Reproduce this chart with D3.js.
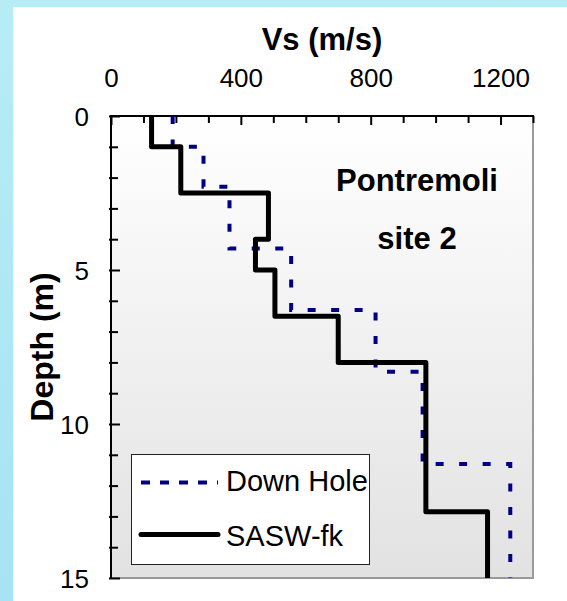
<!DOCTYPE html>
<html>
<head>
<meta charset="utf-8">
<script src="https://cdn.jsdelivr.net/npm/d3@7"></script>
<style>
  html, body { margin: 0; padding: 0; }
  body { width: 567px; height: 601px; overflow: hidden; }
  svg { display: block; font-family: "Liberation Sans", Arial, sans-serif; }
</style>
</head>
<body>
<script>
// Shear-wave velocity profiles: layer boundaries (m) and layer velocities (m/s)
const downHoleDepths = [0, 1, 2.3, 4.3, 6.3, 8.3, 11.3, 15];
const downHoleVs     = [190, 285, 365, 555, 815, 960, 1230];
const saswDepths     = [0, 1, 2.5, 4, 5, 6.5, 8, 12.85, 15];
const saswVs         = [125, 215, 485, 445, 505, 700, 970, 1160];

const xTickValues = [0, 400, 800, 1200];
const yTickValues = [0, 5, 10, 15];
const seriesNames = ["Down Hole", "SASW-fk"];
const xTitle = "Vs (m/s)";
const yTitle = "Depth (m)";
const siteLines = ["Pontremoli", "site 2"];

const W = 567, H = 601;
const plot = { left: 111, top: 116, right: 533, bottom: 578 };

const svg = d3.select("body").append("svg").attr("width", W).attr("height", H);
const defs = svg.append("defs");

const bgGrad = defs.append("linearGradient").attr("id", "bgGrad")
  .attr("x1", 0).attr("y1", 0).attr("x2", 0).attr("y2", 1);
bgGrad.append("stop").attr("offset", 0).attr("stop-color", "#b6edf5");
bgGrad.append("stop").attr("offset", 1).attr("stop-color", "#a7e3f4");

const plotGrad = defs.append("linearGradient").attr("id", "plotGrad")
  .attr("x1", 0).attr("y1", 0).attr("x2", 0).attr("y2", 1);
plotGrad.append("stop").attr("offset", 0).attr("stop-color", "#ffffff");
plotGrad.append("stop").attr("offset", 1).attr("stop-color", "#e2e2e2");

// page background and white panel
svg.append("rect").attr("width", W).attr("height", H).attr("fill", "url(#bgGrad)");
svg.append("rect").attr("x", 13).attr("y", 7).attr("width", W - 13).attr("height", H - 7)
  .attr("fill", "#ffffff");

const x = d3.scaleLinear().domain([0, 1300]).range([plot.left, plot.right]);
const y = d3.scaleLinear().domain([0, 15]).range([plot.top, plot.bottom]);

// plot area
svg.append("rect")
  .attr("x", plot.left).attr("y", plot.top)
  .attr("width", plot.right - plot.left).attr("height", plot.bottom - plot.top)
  .attr("fill", "url(#plotGrad)")
  .attr("stroke", "#9a9a9a").attr("stroke-width", 2);

// axes (top and left), ticks drawn inward
const xAxis = d3.axisTop(x).tickValues(d3.range(0, 1301, 100)).tickSize(0).tickFormat("");
const gx = svg.append("g").attr("transform", `translate(0,${plot.top})`).call(xAxis);
gx.select(".domain").remove();
gx.selectAll(".tick line").remove();
gx.selectAll(".tick").append("line")
  .attr("y1", 0).attr("y2", d => (d % 400 === 0 ? 9 : 7))
  .attr("stroke", "#000").attr("stroke-width", 2);
gx.selectAll(".tick")
  .filter(d => xTickValues.includes(d))
  .append("text")
  .attr("y", 86.5 - plot.top)
  .attr("text-anchor", "middle")
  .attr("fill", "#000")
  .attr("font-size", 26)
  .text(d => d);

const yAxis = d3.axisLeft(y).tickValues(d3.range(0, 15.01, 1)).tickSize(0).tickFormat("");
const gy = svg.append("g").attr("transform", `translate(${plot.left},0)`).call(yAxis);
gy.select(".domain").remove();
gy.selectAll(".tick line").remove();
gy.selectAll(".tick").append("line")
  .attr("x1", -2).attr("x2", d => (d % 5 === 0 ? 9 : 7))
  .attr("stroke", "#000").attr("stroke-width", 2);
gy.selectAll(".tick")
  .filter(d => yTickValues.includes(d))
  .append("text")
  .attr("x", 89 - plot.left)
  .attr("dy", "0.36em")
  .attr("text-anchor", "end")
  .attr("fill", "#000")
  .attr("font-size", 26)
  .text(d => d);

svg.append("line")
  .attr("x1", plot.left).attr("x2", plot.right + 1)
  .attr("y1", plot.top).attr("y2", plot.top)
  .attr("stroke", "#000").attr("stroke-width", 2);
svg.append("line")
  .attr("x1", plot.left).attr("x2", plot.left)
  .attr("y1", plot.top - 1).attr("y2", plot.bottom + 1)
  .attr("stroke", "#000").attr("stroke-width", 2);

// axis titles
svg.append("text")
  .attr("x", (plot.left + plot.right) / 2).attr("y", 50)
  .attr("text-anchor", "middle").attr("font-weight", "bold").attr("font-size", 31)
  .text(xTitle);
svg.append("text")
  .attr("transform", `translate(53,${(plot.top + plot.bottom) / 2}) rotate(-90)`)
  .attr("text-anchor", "middle").attr("font-weight", "bold").attr("font-size", 32)
  .text(yTitle);

// site annotation
svg.selectAll("text.site").data(siteLines).enter().append("text")
  .attr("class", "site")
  .attr("x", 417).attr("y", (d, i) => 191 + i * 57.5)
  .attr("text-anchor", "middle").attr("font-weight", "bold").attr("font-size", 31)
  .text(d => d);

// step profile from boundaries and layer velocities
function stepPoints(depths, vs) {
  const pts = [];
  vs.forEach((v, i) => {
    pts.push([v, depths[i]]);
    pts.push([v, depths[i + 1]]);
  });
  return pts;
}
const line = d3.line().x(d => x(d[0])).y(d => y(d[1]));

svg.append("path")
  .datum(stepPoints(downHoleDepths, downHoleVs))
  .attr("d", line)
  .attr("fill", "none")
  .attr("stroke", "#000080").attr("stroke-width", 4)
  .attr("stroke-dasharray", "8,15.5");

svg.append("path")
  .datum(stepPoints(saswDepths, saswVs))
  .attr("d", line)
  .attr("fill", "none")
  .attr("stroke", "#000").attr("stroke-width", 5)
  .attr("stroke-linejoin", "round");

// legend
const legend = svg.append("g");
legend.append("rect")
  .attr("x", 131.5).attr("y", 454.5).attr("width", 238).attr("height", 110)
  .attr("fill", "#fff").attr("stroke", "#222").attr("stroke-width", 1);
const legendRows = [
  { name: seriesNames[0], y: 482.5, base: 491, stroke: "#000080", width: 4, dash: "9,10", cap: "butt" },
  { name: seriesNames[1], y: 534.5, base: 546, stroke: "#000", width: 5, dash: null, cap: "round" }
];
legendRows.forEach(r => {
  legend.append("line")
    .attr("x1", 141).attr("x2", 218).attr("y1", r.y).attr("y2", r.y)
    .attr("stroke", r.stroke).attr("stroke-width", r.width)
    .attr("stroke-dasharray", r.dash).attr("stroke-linecap", r.cap);
  legend.append("text")
    .attr("x", 226).attr("y", r.base)
    .attr("font-size", 29).attr("fill", "#000")
    .text(r.name);
});
</script>
</body>
</html>
